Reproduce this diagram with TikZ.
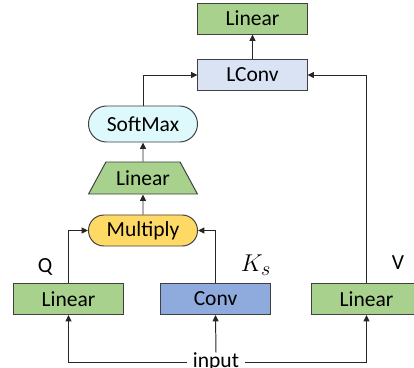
\documentclass[tikz,border=0pt]{standalone}
\usepackage{fontspec}
\setmainfont{Carlito}
\usetikzlibrary{shapes.geometric,arrows.meta}

\definecolor{lingreen}{HTML}{A9D18E}
\definecolor{lconvblue}{HTML}{DAE3F3}
\definecolor{softcyan}{HTML}{DDF9FB}
\definecolor{multyellow}{HTML}{FFD966}
\definecolor{convblue}{HTML}{8FAADC}
\definecolor{edge}{HTML}{404040}

\tikzset{
  block/.style={draw=edge, line width=0.7pt, minimum width=2.725cm, minimum height=0.775cm,
    inner sep=0pt, font=\fontsize{15.3}{18}\selectfont},
  linbox/.style={block, fill=lingreen},
  pill/.style={block, rounded corners=0.385cm},
  trap/.style={block, fill=lingreen, trapezium, trapezium stretches=true,
    trapezium left angle=50, trapezium right angle=50, minimum height=0.8cm},
  flow/.style={draw=black!85, line width=0.7pt, -{Triangle[length=0.16cm,width=0.15cm]}},
  tag/.style={font=\fontsize{15.3}{18}\selectfont, inner sep=0pt}
}

\begin{document}
\begin{tikzpicture}[x=0.025cm, y=-0.025cm]
  \useasboundingbox (0,0) rectangle (414,368);

  \node[linbox] (outlin) at (252.5,18.5) {Linear};
  \node[block, fill=lconvblue] (lconv) at (252.5,75) {LConv};
  \node[pill, fill=softcyan, minimum height=0.9cm, rounded corners=0.45cm] (softmax) at (143,124) {SoftMax};
  \node[trap] (traplin) at (143,178) {Linear};
  \node[pill, fill=multyellow] (multiply) at (143,230.5) {Multiply};
  \node[linbox] (qlin) at (68.5,299) {Linear};
  \node[block, fill=convblue] (conv) at (215.5,299) {Conv};
  \node[linbox] (vlin) at (366.5,299) {Linear};
  \node[tag, fill=white, inner xsep=4pt] (input) at (216,362) {input};

  \node[tag] (qtag) at (45,267) {Q};
  \node[tag, font=\fontsize{19}{22}\selectfont] (ktag) at (256,265) {$K_s$};
  \node[tag] (vtag) at (398,263) {V};

  % input to the three branches
  \draw[flow] (input.west) -| (qlin.south);
  \draw[flow] (input.east) -| (vlin.south);
  \draw[flow] (input.north) -- (conv.south);

  % attention weights
  \draw[flow] (qlin.north) |- (multiply.west);
  \draw[flow] (conv.north) |- (multiply.east);
  \draw[flow] (multiply) -- (traplin);
  \draw[flow] (traplin) -- (softmax);
  \draw[flow] (softmax.north) |- (lconv.west);
  \draw[flow] (vlin.north) |- (lconv.east);
  \draw[flow] (lconv) -- (outlin);
\end{tikzpicture}
\end{document}
